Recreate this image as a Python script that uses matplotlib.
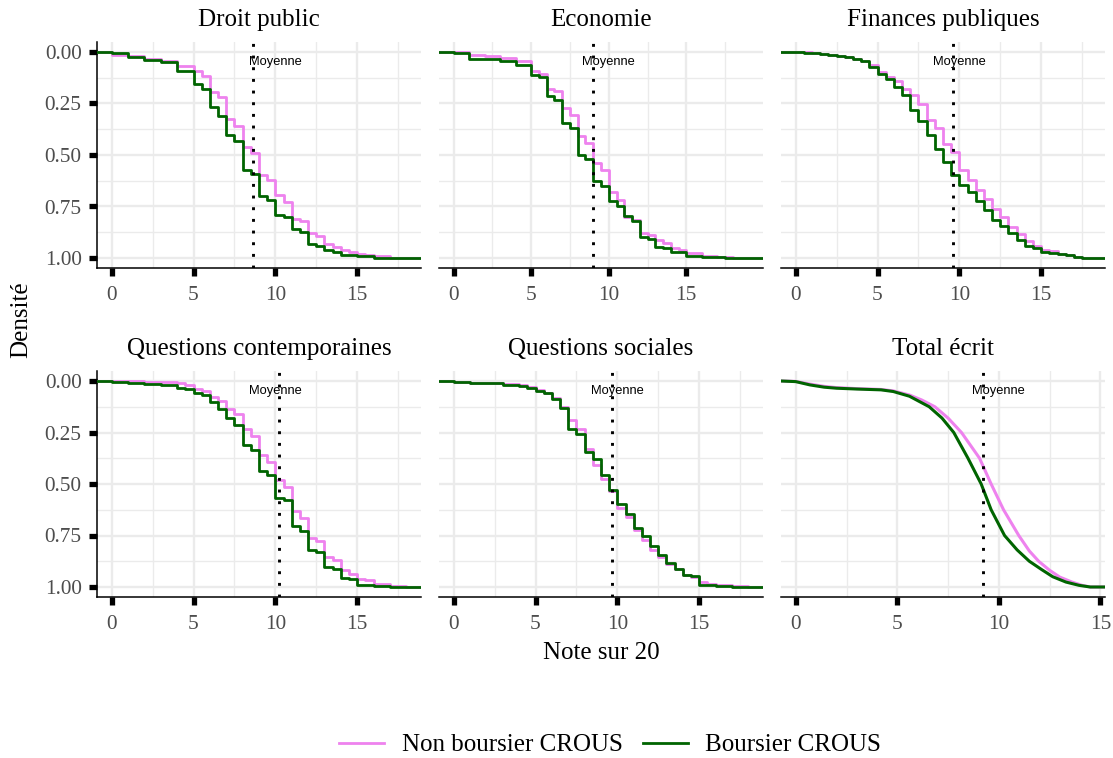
import numpy as np
import matplotlib
matplotlib.use("Agg")
import matplotlib.pyplot as plt
from matplotlib.lines import Line2D

plt.rcParams['font.family'] = ['Liberation Serif', 'DejaVu Serif']

# ---- data (ECDF values) ----
panel_names = ["Droit public", "Economie", "Finances publiques",
               "Questions contemporaines", "Questions sociales", "Total écrit"]
series_names = ["Non boursier CROUS", "Boursier CROUS"]
means = [8.64, 8.97, 9.59, 10.23, 9.67, 9.23]

droit_x = [0, 1, 2, 3, 4, 4.5, 5, 5.5, 6, 6.5, 7, 7.5, 8, 8.5, 9, 9.5, 10, 10.5,
           11, 11.5, 12, 12.5, 13, 13.5, 14, 14.5, 15, 15.5, 16, 17, 18]
droit_non = [0.013, 0.021, 0.034, 0.045, 0.066, 0.070, 0.091, 0.118, 0.196, 0.220,
             0.325, 0.358, 0.463, 0.490, 0.595, 0.620, 0.693, 0.730, 0.811, 0.822,
             0.879, 0.895, 0.930, 0.947, 0.963, 0.971, 0.979, 0.984, 0.992, 0.998, 1.0]
droit_bou = [0.003, 0.024, 0.037, 0.050, 0.091, 0.091, 0.155, 0.180, 0.269, 0.312,
             0.401, 0.434, 0.571, 0.591, 0.701, 0.717, 0.790, 0.801, 0.859, 0.874,
             0.932, 0.943, 0.963, 0.971, 0.984, 0.984, 0.992, 0.992, 0.998, 1.0, 1.0]

eco_x = [0, 1, 2, 3, 4, 5, 5.5, 6, 6.5, 7, 7.5, 8, 8.5, 9, 9.5, 10, 10.5, 11,
         11.5, 12, 12.5, 13, 13.5, 14, 14.5, 15, 16, 17, 17.5, 18, 19]
eco_non = [0.002, 0.013, 0.018, 0.029, 0.045, 0.094, 0.105, 0.180, 0.191, 0.272,
           0.304, 0.409, 0.442, 0.539, 0.574, 0.681, 0.717, 0.801, 0.817, 0.879,
           0.887, 0.914, 0.927, 0.951, 0.960, 0.976, 0.989, 0.995, 0.997, 1.0, 1.0]
eco_bou = [0.005, 0.034, 0.036, 0.045, 0.061, 0.113, 0.121, 0.212, 0.231, 0.345,
           0.369, 0.502, 0.519, 0.628, 0.649, 0.725, 0.749, 0.798, 0.822, 0.898,
           0.908, 0.947, 0.951, 0.971, 0.971, 0.989, 0.995, 0.997, 1.0, 1.0, 1.0]

fin_x = [0, 0.5, 1, 1.5, 2, 2.5, 3, 3.5, 4, 4.5, 5, 5.5, 6, 6.5, 7, 7.5, 8, 8.5,
         9, 9.5, 10, 10.5, 11, 11.5, 12, 12.5, 13, 13.5, 14, 14.5, 15, 15.5, 16,
         16.5, 17, 17.5, 18]
fin_non = [0.0, 0.002, 0.005, 0.009, 0.013, 0.018, 0.024, 0.032, 0.042, 0.062,
           0.095, 0.121, 0.142, 0.180, 0.207, 0.251, 0.328, 0.369, 0.445, 0.487,
           0.571, 0.620, 0.672, 0.714, 0.762, 0.801, 0.850, 0.882, 0.919, 0.943,
           0.960, 0.968, 0.979, 0.987, 0.995, 1.0, 1.0]
fin_bou = [0.0, 0.003, 0.006, 0.010, 0.015, 0.019, 0.026, 0.034, 0.045, 0.075,
           0.105, 0.130, 0.170, 0.207, 0.283, 0.337, 0.401, 0.469, 0.536, 0.599,
           0.647, 0.681, 0.722, 0.769, 0.814, 0.846, 0.879, 0.911, 0.940, 0.951,
           0.972, 0.977, 0.979, 0.985, 0.995, 1.0, 1.0]

qc_x = [0, 1, 2, 3, 4, 4.5, 5, 5.5, 6, 6.5, 7, 7.5, 8, 8.5, 9, 9.5, 10, 10.5,
        11, 11.5, 12, 12.5, 13, 13.5, 14, 14.5, 15, 15.5, 16, 17, 18]
qc_non = [0.002, 0.002, 0.005, 0.005, 0.011, 0.019, 0.037, 0.049, 0.076, 0.097,
          0.134, 0.159, 0.235, 0.267, 0.361, 0.394, 0.481, 0.514, 0.632, 0.665,
          0.762, 0.778, 0.854, 0.870, 0.919, 0.935, 0.961, 0.968, 0.984, 0.997, 1.0]
qc_bou = [0.003, 0.008, 0.016, 0.019, 0.032, 0.041, 0.060, 0.070, 0.100, 0.138,
          0.181, 0.215, 0.313, 0.335, 0.438, 0.457, 0.567, 0.579, 0.705, 0.729,
          0.822, 0.830, 0.903, 0.911, 0.956, 0.961, 0.989, 0.989, 0.994, 1.0, 1.0]

qs_x = [0, 1, 2, 3, 4, 4.5, 5, 5.5, 6, 6.5, 7, 7.5, 8, 8.5, 9, 9.5, 10, 10.5,
        11, 11.5, 12, 12.5, 13, 13.5, 14, 14.5, 15, 15.5, 16, 17, 18]
qs_non = [0.003, 0.008, 0.008, 0.016, 0.021, 0.029, 0.044, 0.057, 0.081, 0.125,
          0.190, 0.235, 0.332, 0.410, 0.475, 0.535, 0.616, 0.659, 0.724, 0.770,
          0.818, 0.854, 0.887, 0.915, 0.940, 0.951, 0.977, 0.985, 0.992, 0.997, 1.0]
qs_bou = [0.005, 0.011, 0.011, 0.019, 0.024, 0.032, 0.049, 0.060, 0.089, 0.130,
          0.235, 0.259, 0.345, 0.381, 0.454, 0.527, 0.596, 0.648, 0.713, 0.754,
          0.802, 0.843, 0.883, 0.912, 0.940, 0.948, 0.989, 0.989, 0.997, 1.0, 1.0]

tot_non_x = [0, 0.7, 1.4, 2, 3, 4.2, 4.8, 5.6, 6.2, 6.85, 7.5, 8.16, 9.05, 9.62,
             10.23, 10.98, 11.5, 11.96, 12.5, 13.0, 13.6, 14.1, 14.5]
tot_non = [0.002, 0.015, 0.026, 0.032, 0.037, 0.041, 0.048, 0.068, 0.092, 0.125,
           0.180, 0.250, 0.375, 0.500, 0.625, 0.750, 0.825, 0.875, 0.919, 0.952,
           0.976, 0.992, 1.0]
tot_bou_x = [0, 0.7, 1.4, 2, 3, 4.2, 4.8, 5.6, 6.57, 7.2, 7.78, 8.48, 9.13, 9.62,
             10.28, 10.9, 11.5, 12.1, 12.65, 13.3, 13.95, 14.5]
tot_bou = [0.003, 0.019, 0.030, 0.035, 0.039, 0.043, 0.051, 0.074, 0.125, 0.180,
           0.250, 0.375, 0.500, 0.625, 0.750, 0.820, 0.875, 0.915, 0.950, 0.976,
           0.992, 1.0]

panels = [
    (droit_x, droit_non, droit_x, droit_bou, True),
    (eco_x, eco_non, eco_x, eco_bou, True),
    (fin_x, fin_non, fin_x, fin_bou, True),
    (qc_x, qc_non, qc_x, qc_bou, True),
    (qs_x, qs_non, qs_x, qs_bou, True),
    (tot_non_x, tot_non, tot_bou_x, tot_bou, False),
]

y_ticks = [0, 0.25, 0.5, 0.75, 1.0]
y_labels = ["0.00", "0.25", "0.50", "0.75", "1.00"]
x_ticks = [0, 5, 10, 15]

col_non = "violet"
col_bou = "darkgreen"

# ---- layout ----
W, H = 1113, 758
fig = plt.figure(figsize=(W / 100, H / 100), dpi=100)
col_left = [97, 439, 781]
row_top = [41.7, 370.7]
pw, ph = 324, 226.6

for i, (xn, yn, xb, yb, stepped) in enumerate(panels):
    r, c = divmod(i, 3)
    l, t = col_left[c], row_top[r]
    ax = fig.add_axes([l / W, 1 - (t + ph) / H, pw / W, ph / H])

    xmin = min(min(xn), min(xb))
    xmax = max(max(xn), max(xb))
    pad = 0.05 * (xmax - xmin)
    lo, hi = xmin - pad, xmax + pad

    for xs, ys, col in [(xn, yn, col_non), (xb, yb, col_bou)]:
        xx = np.r_[lo, xs, hi]
        yy = np.r_[0.0, ys, 1.0]
        if stepped:
            ax.step(xx, yy, where='post', color=col, lw=2.0, zorder=3)
        else:
            ax.plot(xx, yy, color=col, lw=2.2, zorder=3)

    ax.axvline(means[i], color='black', lw=2.1, linestyle=(0, (1, 3.0)), zorder=4)
    ax.text(10, 0.05, "Moyenne", ha='center', va='center', fontsize=9.3,
            family=['Liberation Sans', 'DejaVu Sans'], color='black', zorder=5)

    ax.set_xlim(lo, hi)
    ax.set_ylim(1.05, -0.05)
    ax.set_xticks(x_ticks)
    ax.set_xticks([v for v in [2.5, 7.5, 12.5, 17.5] if lo < v < hi], minor=True)
    ax.set_yticks(y_ticks)
    ax.set_yticklabels(y_labels)
    ax.set_yticks([0.125, 0.375, 0.625, 0.875], minor=True)
    ax.grid(which='major', color='#EBEBEB', lw=1.7, zorder=0)
    ax.grid(which='minor', color='#EBEBEB', lw=1.0, zorder=0)
    ax.set_axisbelow(True)

    for s in ['top', 'right']:
        ax.spines[s].set_visible(False)
    ax.spines['bottom'].set_linewidth(1.1)
    ax.spines['left'].set_linewidth(1.1)
    ax.tick_params(which='minor', length=0)
    ax.tick_params(which='major', direction='out', length=5.5, width=3.8,
                   color='black', labelsize=15.3, labelcolor='#4D4D4D')
    ax.tick_params(axis='x', pad=7)
    ax.tick_params(axis='y', pad=5.5)
    if c > 0:
        ax.spines['left'].set_visible(False)
        ax.tick_params(axis='y', left=False, labelleft=False)

    fig.text((l + pw / 2) / W, 1 - (t - 15.3) / H, panel_names[i],
             ha='center', va='baseline', fontsize=18, color='black')

fig.text((97 + 1105) / 2 / W, 1 - 659 / H, "Note sur 20", ha='center',
         va='baseline', fontsize=18)
fig.text(21 / W, 1 - 320 / H, "Densité", ha='center', va='center',
         rotation=90, fontsize=18)

handles = [Line2D([], [], color=col_non, lw=2.0), Line2D([], [], color=col_bou, lw=2.0)]
fig.legend(handles, series_names, loc='center', bbox_to_anchor=(610 / W, 1 - 745 / H),
           ncol=2, frameon=False, fontsize=18, handlelength=1.8,
           handletextpad=0.7, columnspacing=0.8)

fig.savefig("out.png", dpi=100)
